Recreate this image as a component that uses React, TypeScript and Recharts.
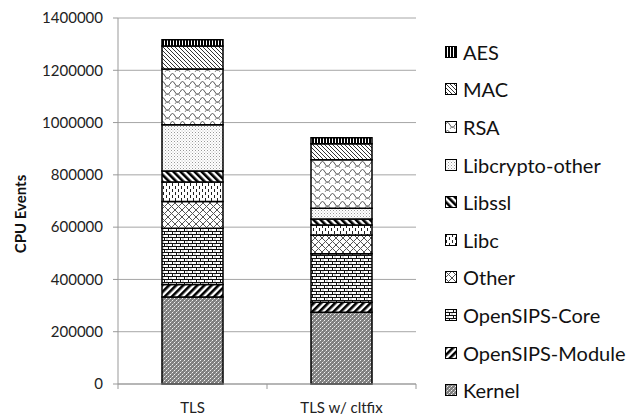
import { BarChart, Bar, XAxis, YAxis, CartesianGrid } from "recharts";

const categories = ["TLS", "TLS w/ cltfix"];
const kernel = [333000, 274000];
const opensipsModule = [48000, 39000];
const opensipsCore = [215000, 185000];
const other = [102000, 72000];
const libc = [75000, 38000];
const libssl = [42000, 23000];
const libcryptoOther = [177000, 41000];
const rsa = [213000, 186000];
const mac = [88000, 61000];
const aes = [24000, 23000];
const yTicks = [0, 200000, 400000, 600000, 800000, 1000000, 1200000, 1400000];

// stacking order, bottom first
const series = [
  { key: "Kernel", values: kernel, pat: "p-kernel" },
  { key: "OpenSIPS-Module", values: opensipsModule, pat: "p-module" },
  { key: "OpenSIPS-Core", values: opensipsCore, pat: "p-core" },
  { key: "Other", values: other, pat: "p-other" },
  { key: "Libc", values: libc, pat: "p-libc" },
  { key: "Libssl", values: libssl, pat: "p-libssl" },
  { key: "Libcrypto-other", values: libcryptoOther, pat: "p-libcrypto" },
  { key: "RSA", values: rsa, pat: "p-rsa" },
  { key: "MAC", values: mac, pat: "p-mac" },
  { key: "AES", values: aes, pat: "p-aes" },
];

const data = categories.map((name, i) => {
  const row: Record<string, string | number> = { name };
  series.forEach((s) => (row[s.key] = s.values[i]));
  return row;
});

const W = 629;
const H = 419;
const margin = { top: 18, right: 213, bottom: 0, left: 0 };
const xAxisH = 35;
const yAxisW = 118;
const band = (W - margin.left - margin.right - yAxisW) / categories.length;
const font = "Lato, 'Open Sans', sans-serif";

function Patterns() {
  return (
    <svg width={0} height={0} style={{ position: "absolute" }}>
      <defs>
        <pattern id="p-aes" width="3" height="3" patternUnits="userSpaceOnUse">
          <rect width="3" height="3" fill="#000" />
          <rect x="2" width="1" height="3" fill="#fff" />
        </pattern>
        <pattern id="p-mac" width="4" height="4" patternUnits="userSpaceOnUse">
          <rect width="4" height="4" fill="#fff" />
          <path d="M-1,-1 L5,5 M3,-1 L5,1 M-1,3 L1,5" stroke="#333" strokeWidth="1" />
        </pattern>
        <pattern id="p-rsa" width="10" height="8" patternUnits="userSpaceOnUse">
          <rect width="10" height="8" fill="#fff" />
          <path d="M0,4 Q2.5,-1 5,4 T10,4" fill="none" stroke="#555" strokeWidth="1" />
          <path d="M-5,8 Q-2.5,3 0,8 T5,8 T10,8 T15,8" fill="none" stroke="#888" strokeWidth="1" />
        </pattern>
        <pattern id="p-libcrypto" width="3" height="3" patternUnits="userSpaceOnUse">
          <rect width="3" height="3" fill="#fff" />
          <rect x="0" y="0" width="1" height="1" fill="#999" />
          <rect x="1.5" y="1.5" width="1" height="1" fill="#bbb" />
        </pattern>
        <pattern id="p-libssl" width="5" height="5" patternUnits="userSpaceOnUse" patternTransform="rotate(-45)">
          <rect width="5" height="5" fill="#fff" />
          <rect width="2.6" height="5" fill="#000" />
        </pattern>
        <pattern id="p-libc" width="6" height="6" patternUnits="userSpaceOnUse">
          <rect width="6" height="6" fill="#fff" />
          <rect x="1" y="0" width="1" height="3" fill="#222" />
          <rect x="4" y="3" width="1" height="3" fill="#222" />
        </pattern>
        <pattern id="p-other" width="7" height="7" patternUnits="userSpaceOnUse">
          <rect width="7" height="7" fill="#fff" />
          <path d="M0,0 L7,7 M7,0 L0,7" stroke="#555" strokeWidth="1" />
        </pattern>
        <pattern id="p-core" width="8" height="6" patternUnits="userSpaceOnUse">
          <rect width="8" height="6" fill="#fff" />
          <path d="M0,0.5 H8 M0,3.5 H8 M0.5,0.5 V3.5 M4.5,3.5 V6.5" stroke="#111" strokeWidth="1" />
          <path d="M2,2 H4 M6,5 H8" stroke="#aaa" strokeWidth="1" />
        </pattern>
        <pattern id="p-module" width="5" height="5" patternUnits="userSpaceOnUse" patternTransform="rotate(45)">
          <rect width="5" height="5" fill="#fff" />
          <rect width="2.6" height="5" fill="#000" />
        </pattern>
        <pattern id="p-kernel" width="4" height="4" patternUnits="userSpaceOnUse">
          <rect width="4" height="4" fill="#808080" />
          <rect x="0" y="0" width="1" height="1" fill="#f4f4f4" />
          <rect x="2" y="2" width="1" height="1" fill="#f4f4f4" />
          <rect x="1" y="3" width="1" height="1" fill="#b0b0b0" />
          <rect x="3" y="1" width="1" height="1" fill="#b0b0b0" />
        </pattern>
      </defs>
    </svg>
  );
}

function XTick(props: any) {
  const { x, y, payload, index } = props;
  return (
    <g>
      <line x1={x - band / 2} x2={x - band / 2} y1={y} y2={y + 5} stroke="#999" />
      {index === categories.length - 1 && (
        <line x1={x + band / 2} x2={x + band / 2} y1={y} y2={y + 5} stroke="#999" />
      )}
      <text x={x} y={y + 29} textAnchor="middle" fontSize={15} fontFamily={font} fill="#222">
        {payload.value}
      </text>
    </g>
  );
}

function YLabel() {
  return (
    <text
      x={20}
      y={214}
      transform="rotate(-90 20 214)"
      textAnchor="middle"
      dominantBaseline="central"
      fontSize={15}
      fontWeight="bold"
      fontFamily={font}
      fill="#111"
    >
      CPU Events
    </text>
  );
}

function LegendBox() {
  const items = [...series].reverse();
  return (
    <div style={{ position: "absolute", left: 445, top: 33, fontFamily: font, fontSize: 20, color: "#111" }}>
      {items.map((s) => (
        <div key={s.key} style={{ display: "flex", alignItems: "center", height: 37.6 }}>
          <svg width={12} height={12} style={{ marginRight: 6 }}>
            <rect x={0.5} y={0.5} width={11} height={11} fill={`url(#${s.pat})`} stroke="#000" />
          </svg>
          <span>{s.key}</span>
        </div>
      ))}
    </div>
  );
}

export default function App() {
  return (
    <div style={{ position: "absolute", left: 0, top: 0, width: W, height: H, background: "#fff" }}>
      <Patterns />
      <BarChart width={W} height={H} data={data} margin={margin} barSize={61}>
        <CartesianGrid vertical={false} stroke="#a6a6a6" />
        <XAxis
          dataKey="name"
          stroke="#999"
          tickLine={false}
          tickSize={0}
          tickMargin={0}
          height={xAxisH}
          tick={<XTick />}
        />
        <YAxis
          width={yAxisW}
          domain={[0, 1400000]}
          ticks={yTicks}
          stroke="#999"
          tickSize={5}
          tickMargin={10}
          tick={{ fontSize: 15, fontFamily: font, fill: "#222" }}
          label={<YLabel />}
        />
        {series.map((s) => (
          <Bar
            key={s.key}
            dataKey={s.key}
            stackId="cpu"
            fill={`url(#${s.pat})`}
            stroke="#000"
            strokeWidth={1.5}
            isAnimationActive={false}
          />
        ))}
      </BarChart>
      <LegendBox />
    </div>
  );
}
